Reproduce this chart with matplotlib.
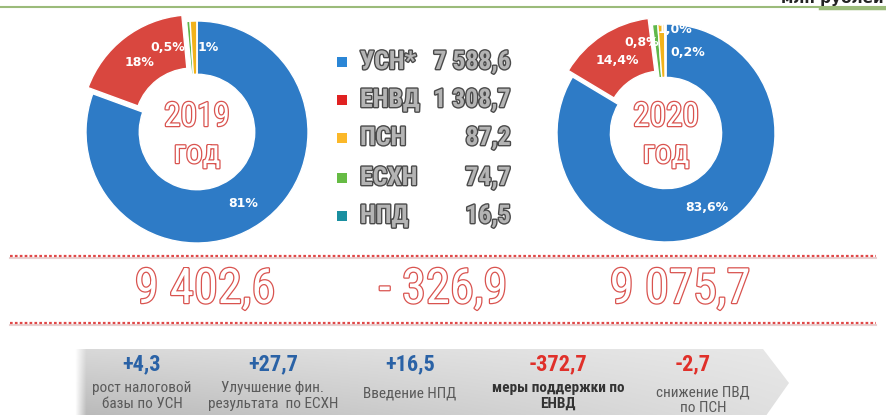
import matplotlib
matplotlib.use("Agg")
import matplotlib.pyplot as plt
import matplotlib.patheffects as pe
from matplotlib import font_manager as fm
from matplotlib.patches import Polygon, Rectangle
import numpy as np

# ---------------- data ----------------
pie_categories = ['УСН', 'ЕНВД', 'ЕСХН', 'ПСН', 'НПД']
shares_2019 = [81.0, 18.0, 0.5, 1.0, 0.0]
shares_2020 = [83.6, 14.4, 0.8, 1.0, 0.2]
pct_labels_2019 = ['81%', '18%', '0,5%', '1%', '']
pct_labels_2020 = ['83,6%', '14,4%', '0,8%', '1,0%', '0,2%']

legend_names = ['УСН*', 'ЕНВД', 'ПСН', 'ЕСХН', 'НПД']
legend_values = [7588.6, 1308.7, 87.2, 74.7, 16.5]

total_2019 = 9402.6
total_change = -326.9
total_2020 = 9075.7

factor_values = [4.3, 27.7, 16.5, -372.7, -2.7]
factor_texts = ['рост налоговой\nбазы по УСН',
                'Улучшение фин.\nрезультата  по ЕСХН',
                'Введение НПД',
                'меры поддержки по\nЕНВД',
                'снижение ПВД\nпо ПСН']
unit_text = 'млн рублей'

# ---------------- style ----------------
colors = {'УСН': '#2e7bc6', 'ЕНВД': '#d9473f', 'ЕСХН': '#5fb84a',
          'ПСН': '#f2b21b', 'НПД': '#1b8fa3'}
legend_colors = ['#2b86d6', '#e02222', '#fbb829', '#66bb44', '#1a8fa0']
RED_OUT = '#d9534f'


def _w(f):
    w = f.weight
    if isinstance(w, str):
        return fm.weight_dict.get(w, 400)
    return w


def find_narrow(bold):
    prefs = ['Liberation Sans Narrow', 'Arial Narrow', 'Roboto Condensed',
             'Open Sans Condensed', 'Noto Sans Condensed', 'DejaVu Sans',
             'Noto Sans', 'Open Sans', 'Roboto']
    for fam in prefs:
        for f in fm.fontManager.ttflist:
            if f.name != fam:
                continue
            narrow = ('Narrow' in fam or 'Condensed' in fam or
                      f.stretch in ('condensed', 'semi-condensed',
                                    'extra-condensed', 'ultra-condensed'))
            if not narrow or f.style != 'normal':
                continue
            if (_w(f) >= 600) == bold:
                return f.fname
    return None


NB = find_narrow(True)
NR = find_narrow(False)
SCALE = 1.0 if NB else 0.8


def nfont(size, bold=True):
    path = NB if bold else NR
    if path:
        return fm.FontProperties(fname=path, size=size)
    return fm.FontProperties(family='DejaVu Sans', size=size * SCALE,
                             weight='bold' if bold else 'normal')


def fmt(v):
    return f"{v:,.1f}".replace(',', ' ').replace('.', ',')


W, H = 886, 415
fig = plt.figure(figsize=(W / 100, H / 100), dpi=100)
fig.patch.set_facecolor('white')
ax = fig.add_axes([0, 0, 1, 1])
ax.set_xlim(0, W)
ax.set_ylim(H, 0)
ax.axis('off')

# top rule and unit text (cut off at top)
ax.plot([0, W], [7, 7], color='#9bbb7a', lw=1.5)
ax.plot([820, W], [8, 8], color='#9bbb7a', lw=2.5)
ax.text(884, 3, unit_text, ha='right', va='baseline', fontsize=11,
        color='#222222', fontweight='bold')


# ---------------- donuts ----------------
def donut(cx, cy, R, shares, labels, label_pos, year, width):
    S = 2.6 * R
    pax = fig.add_axes([(cx - 1.3 * R) / W, (H - cy - 1.3 * R) / H, S / W, S / H])
    explode = [0.07 if c == 'ЕНВД' else 0 for c in pie_categories]
    pax.pie(shares, colors=[colors[c] for c in pie_categories], startangle=90,
            counterclock=False, explode=explode,
            wedgeprops=dict(width=width, edgecolor='white', linewidth=1.0))
    pax.set_xlim(-1.3, 1.3)
    pax.set_ylim(-1.3, 1.3)
    pax.set_aspect('equal')
    pax.axis('off')
    for lab, (px, py) in zip(labels, label_pos):
        if lab:
            pax.text((px - cx) / R, -(py - cy) / R, lab, ha='center', va='center',
                     color='white', fontsize=9, fontweight='bold',
                     family=['DejaVu Sans'])
    eff = [pe.withStroke(linewidth=1.8, foreground=RED_OUT)]
    pax.text(0, -(117 - cy) / R, str(year), ha='center', va='center',
             fontproperties=nfont(24, False), color='white', path_effects=eff)
    pax.text(0, -(154 - cy) / R, 'год', ha='center', va='center',
             fontproperties=nfont(24, False), color='white', path_effects=eff)


donut(197, 132, 111, shares_2019, pct_labels_2019,
      [(243, 203), (140, 62), (168, 47), (208, 47), (0, 0)], 2019, 0.48)
donut(666, 133, 109, shares_2020, pct_labels_2020,
      [(707, 207), (617, 60), (642, 43), (675, 30), (688, 52)], 2020, 0.49)

# ---------------- legend ----------------
leg_y = [62, 100, 138, 178, 216]
leg_eff = [pe.withStroke(linewidth=2.0, foreground='#4a4a4a')]
for name, val, col, y in zip(legend_names, legend_values, legend_colors, leg_y):
    ax.add_patch(Rectangle((337, y - 5), 10, 10, facecolor=col, edgecolor='none'))
    ax.text(360, y, name, ha='left', va='center', fontproperties=nfont(18.5),
            color='#b4b4b4', path_effects=leg_eff)
    ax.text(511, y, fmt(val), ha='right', va='center', fontproperties=nfont(18.5),
            color='#b4b4b4', path_effects=leg_eff)

# ---------------- totals ----------------
for yy in (256, 323):
    ax.plot([10, 876], [yy + 2, yy + 2], color='#e8d0d0', lw=1.5, zorder=1)
    ax.plot([10, 876], [yy, yy], color='#e04848', lw=1.6, ls=(0, (1.2, 1.0)), zorder=2)

tot_eff = [pe.withStroke(linewidth=1.8, foreground=RED_OUT)]
totals = [(205, fmt(total_2019)),
          (443, '- ' + fmt(abs(total_change))),
          (680, fmt(total_2020))]
for x, s in totals:
    ax.text(x, 290, s, ha='center', va='center', fontproperties=nfont(35, False),
            color='white', path_effects=tot_eff)

# ---------------- factors band ----------------
poly = [(75, 349), (763, 349), (789, 383), (763, 420), (75, 420)]
band = Polygon(poly, closed=True, facecolor='none', edgecolor='none')
ax.add_patch(band)
gh, gw = 80, 720
t = np.linspace(0, 1, gh)[:, None]
s = np.linspace(0, 1, gw)[None, :]
g = 0.93 - 0.21 * (0.35 + 0.65 * t) * (1 - 0.75 * s)
fade = np.clip(s / 0.015, 0, 1)
g = g * fade + 1.0 * (1 - fade)
rgb = np.dstack([g, g, g])
im = ax.imshow(rgb, extent=(75, 795, 420, 345), origin='upper', aspect='auto',
               interpolation='bilinear', zorder=0.5)
im.set_clip_path(band)
ax.set_xlim(0, W)
ax.set_ylim(H, 0)

fx = [142, 273, 410, 558, 693]
for i, (v, txt, x) in enumerate(zip(factor_values, factor_texts, fx)):
    col = '#2a62a6' if v > 0 else '#e0302a'
    lab = ('+' if v > 0 else '-') + fmt(abs(v))
    ax.text(x, 364, lab, ha='center', va='center', fontproperties=nfont(16),
            color=col, zorder=3)
    bold = (i == 3)
    ty = 396 if txt.count('\n') == 1 else 393
    if i == 4:
        ty = 400
        x = x + 10
    ax.text(x, ty, txt, ha='center', va='center', fontproperties=nfont(11, bold),
            color='#333333' if bold else '#5a5a5a', linespacing=1.1, zorder=3)

fig.savefig('out.png', dpi=100, facecolor='white')
